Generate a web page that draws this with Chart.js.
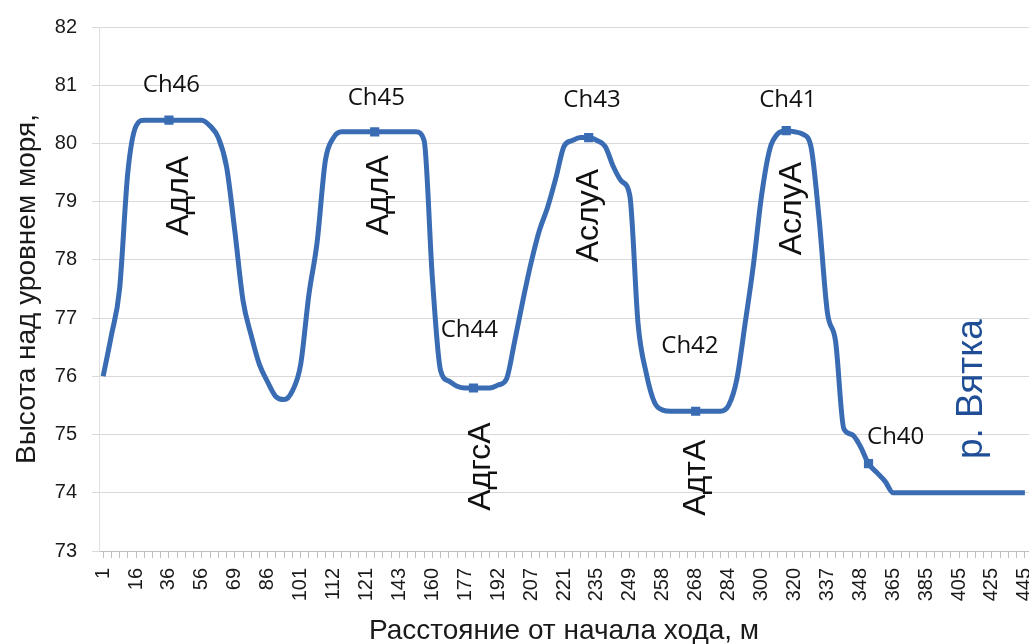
<!DOCTYPE html>
<html>
<head>
<meta charset="utf-8">
<script src="https://cdn.jsdelivr.net/npm/chart.js@4.4.0/dist/chart.umd.min.js"></script>
<style>
  html, body { margin: 0; padding: 0; background: #fff; overflow: hidden; }
  #wrap { width: 1029px; height: 644px; }
</style>
</head>
<body>
<div id="wrap"><canvas id="profileChart"></canvas></div>
<script>
// labelled distances (every 4th station on the axis)
const distLabels = ['1', '16', '36', '56', '69', '86', '101', '112', '121', '143',
  '160', '177', '192', '207', '221', '235', '249', '258', '268', '284',
  '300', '320', '337', '348', '365', '385', '405', '425', '445'];
const labelStep = 4;

// elevation of every station, m
const elevation = [
  76.0, 76.7, 77.5, 79.5, 80.3, 80.4, 80.4, 80.4, 80.4, 80.4,
  80.4, 80.4, 80.4, 80.3, 80.1, 79.6, 78.5, 77.3, 76.7, 76.2,
  75.9, 75.65, 75.6, 75.75, 76.2, 77.4, 78.3, 79.7, 80.1, 80.2,
  80.2, 80.2, 80.2, 80.2, 80.2, 80.2, 80.2, 80.2, 80.2, 80.05,
  77.7, 76.1, 75.92, 75.83, 75.8, 75.8, 75.8, 75.8, 75.85, 75.95,
  76.6, 77.3, 77.95, 78.5, 78.9, 79.4, 79.95, 80.05, 80.1, 80.1,
  80.05, 79.95, 79.6, 79.35, 79.1, 76.9, 76.05, 75.55, 75.42, 75.4,
  75.4, 75.4, 75.4, 75.4, 75.4, 75.4, 75.5, 75.95, 76.9, 77.9,
  79.1, 79.9, 80.17, 80.22, 80.2, 80.16, 79.95, 78.7, 77.1, 76.6,
  75.1, 75.0, 74.8, 74.5, 74.35, 74.2, 74.0, 74.0, 74.0, 74.0,
  74.0, 74.0, 74.0, 74.0, 74.0, 74.0, 74.0, 74.0, 74.0, 74.0,
  74.0, 74.0, 74.0
];

// pits (Ch..) on the profile
const pitNames = ['Ch46', 'Ch45', 'Ch44', 'Ch43', 'Ch42', 'Ch41', 'Ch40'];
const pitIndex = [8, 33, 45, 59, 72, 83, 93];
const pitLabelX = [8.3, 33.2, 44.5, 59.4, 71.3, 83.2, 96.3];
const pitLabelY = [81.0, 80.77, 76.79, 80.74, 76.52, 80.75, 74.95];

// soil names (vertical text)
const soilNames = ['АдлА', 'АдлА', 'АдгсА', 'АслуА', 'АдтА', 'АслуА'];
const soilX = [9.3, 33.6, 45.9, 59.0, 72.0, 83.7];
const soilY = [79.1, 79.11, 74.45, 78.76, 74.26, 78.88];

const riverName = 'р. Вятка';
const riverX = 105.5;
const riverY = 75.78;

const labels = elevation.map((v, i) => i % labelStep === 0 ? distLabels[i / labelStep] : '');
const pointSize = elevation.map((v, i) => pitIndex.includes(i) ? 6.5 : 0);

const lineBlue = '#3a6cb4';

const textPlugin = {
  id: 'profileText',
  afterDatasetsDraw(chart) {
    const { ctx, scales: { x, y } } = chart;
    ctx.save();
    ctx.textAlign = 'center';
    ctx.textBaseline = 'middle';
    ctx.fillStyle = '#111';
    ctx.font = '24px "Open Sans"';
    pitNames.forEach((t, i) => {
      ctx.fillText(t, x.getPixelForValue(pitLabelX[i]), y.getPixelForValue(pitLabelY[i]));
    });
    ctx.font = '32px "Liberation Sans"';
    soilNames.forEach((t, i) => {
      ctx.save();
      ctx.translate(x.getPixelForValue(soilX[i]), y.getPixelForValue(soilY[i]));
      ctx.rotate(-Math.PI / 2);
      ctx.fillText(t, 0, 0);
      ctx.restore();
    });
    ctx.fillStyle = '#1f4e96';
    ctx.font = '37px "Liberation Sans"';
    ctx.translate(x.getPixelForValue(riverX), y.getPixelForValue(riverY));
    ctx.rotate(-Math.PI / 2);
    ctx.fillText(riverName, 0, 0);
    ctx.restore();
  }
};

new Chart(document.getElementById('profileChart'), {
  type: 'line',
  data: {
    labels: labels,
    datasets: [{
      data: elevation,
      borderColor: lineBlue,
      backgroundColor: lineBlue,
      borderWidth: 5,
      cubicInterpolationMode: 'monotone',
      pointStyle: 'rect',
      pointRadius: pointSize,
      pointBorderWidth: 0,
      fill: false
    }]
  },
  options: {
    responsive: true,
    maintainAspectRatio: false,
    animation: false,
    layout: { padding: { left: 6, top: 24, right: 0, bottom: 0 } },
    plugins: {
      legend: { display: false },
      tooltip: { enabled: false }
    },
    scales: {
      x: {
        offset: true,
        afterFit(s) {
          s.height = 93;
          s.paddingLeft = 0;
          s.paddingRight = 0;
        },
        grid: { drawOnChartArea: false, color: '#bfbfbf', tickLength: 7 },
        border: { color: '#bfbfbf' },
        ticks: {
          autoSkip: false,
          minRotation: 90,
          maxRotation: 90,
          padding: 10,
          color: '#1a1a1a',
          font: { family: 'Liberation Sans', size: 20 }
        },
        title: {
          display: true,
          text: 'Расстояние от начала хода, м',
          color: '#1a1a1a',
          padding: 0,
          font: { family: 'Liberation Sans', size: 28, lineHeight: 0.9 }
        }
      },
      y: {
        min: 73,
        max: 82,
        afterFit(s) { s.width = 93; },
        grid: { color: '#d9d9d9', tickLength: 7 },
        border: { color: '#e0e0e0' },
        ticks: {
          stepSize: 1,
          padding: 15,
          color: '#1a1a1a',
          font: { family: 'Liberation Sans', size: 20 }
        },
        title: {
          display: true,
          text: 'Высота над уровнем моря,',
          color: '#1a1a1a',
          padding: 4,
          font: { family: 'Liberation Sans', size: 28 }
        }
      }
    }
  },
  plugins: [textPlugin]
});
</script>
</body>
</html>
